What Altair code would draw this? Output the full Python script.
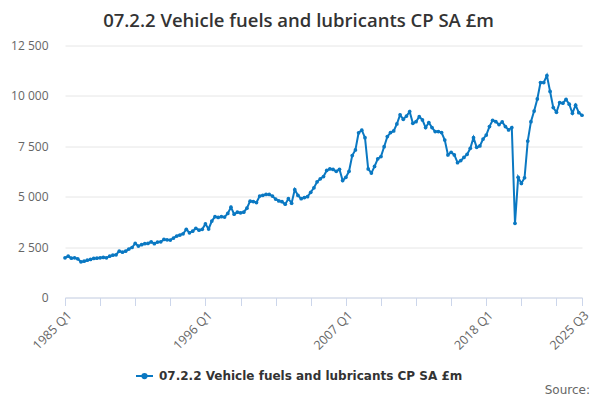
import altair as alt
import pandas as pd

series_name = "07.2.2 Vehicle fuels and lubricants CP SA £m"

start_year = 1985
values = [
    1970, 2050, 1950, 1970, 1920, 1770, 1800, 1850, 1890, 1940,
    1950, 1970, 1990, 1970, 2050, 2100, 2120, 2300, 2250, 2300,
    2400, 2480, 2680, 2550, 2620, 2670, 2680, 2760, 2670, 2750,
    2760, 2880, 2860, 2850, 2950, 3050, 3100, 3160, 3380, 3210,
    3290, 3430, 3340, 3380, 3650, 3400, 3790, 4010, 3970, 4010,
    3990, 4170, 4480, 4130, 4230, 4200, 4230, 4430, 4780, 4760,
    4710, 5030, 5070, 5110, 5110, 5030, 4880, 4790, 4750, 4630,
    4900, 4680, 5350, 5060, 4900, 4960, 5000, 5220, 5440, 5740,
    5890, 6000, 6300, 6380, 6350, 6260, 6360, 5800, 5960, 6260,
    7040, 7320, 8170, 8300, 7930, 6380, 6170, 6500, 6880, 6990,
    7480, 7980, 8180, 8260, 8610, 9060, 8840, 9000, 9220, 8640,
    8720, 8970, 8810, 8430, 8680, 8430, 8230, 8230, 8180, 7810,
    7070, 7200, 7070, 6690, 6790, 6950, 7100, 7400, 7930, 7450,
    7520, 7860, 8060, 8480, 8790, 8720, 8580, 8710, 8480, 8310,
    8430, 3680, 5960, 5660, 5940, 7760, 8720, 9250, 9850, 10660,
    10660, 11010, 10220, 9420, 9190, 9670, 9640, 9830, 9590, 9140,
    9540, 9170, 9040,
]

quarters = [f"{start_year + i // 4} Q{i % 4 + 1}" for i in range(len(values))]

tick_quarters = quarters[::11] + [quarters[-1]]
label_quarters = ["1985 Q1", "1996 Q1", "2007 Q1", "2018 Q1", "2025 Q3"]
y_ticks = [0, 2500, 5000, 7500, 10000, 12500]

df = pd.DataFrame({"quarter": quarters, "value": values, "series": series_name})

blue = "#0a78c2"
label_list = "[" + ",".join(f"'{q}'" for q in label_quarters) + "]"

path_sym = "M-1,0L1,0M-0.25,0A0.25,0.25,0,1,0,0.25,0A0.25,0.25,0,1,0,-0.25,0Z"

line = alt.Chart(df).mark_line(
    strokeWidth=2,
    point=alt.OverlayMarkDef(filled=True, size=14, color=blue),
).encode(
    x=alt.X(
        "quarter:O",
        sort=quarters,
        scale=alt.Scale(type="point", padding=0),
        axis=alt.Axis(
            title=None,
            values=tick_quarters,
            labelExpr=f"indexof({label_list}, datum.value) >= 0 ? datum.value : ''",
            labelAngle=-45,
            labelAlign="right",
            labelBaseline="top",
            labelFont="Open Sans",
            labelFontSize=12.5,
            labelColor="#666666",
            labelPadding=3,
            tickSize=8,
            tickColor="#ccd6eb",
            domainColor="#ccd6eb",
            grid=False,
            labelOverlap=False,
        ),
    ),
    y=alt.Y(
        "value:Q",
        scale=alt.Scale(domain=[0, 12500], nice=False),
        axis=alt.Axis(
            title=None,
            values=y_ticks,
            labelExpr="replace(format(datum.value, ','), ',', ' ')",
            labelFont="Open Sans",
            labelFontSize=12,
            labelColor="#666666",
            labelPadding=17,
            domain=False,
            ticks=False,
            gridColor="#e6e6e6",
        ),
    ),
    color=alt.Color(
        "series:N",
        scale=alt.Scale(range=[blue]),
        legend=alt.Legend(
            title=None,
            orient="none",
            legendX=70,
            legendY=321,
            symbolType=path_sym,
            symbolSize=289,
            symbolStrokeWidth=2,
            symbolStrokeColor=blue,
            symbolFillColor=blue,
            labelFont="DejaVu Sans",
            labelFontSize=12,
            labelFontWeight="bold",
            labelColor="#333333",
            labelOffset=5,
            labelLimit=500,
        ),
    ),
)

source = alt.Chart(pd.DataFrame({"t": ["Source:"]})).mark_text(
    align="right", baseline="middle", fontSize=12, font="DejaVu Sans", color="#666666"
).encode(x=alt.value(525), y=alt.value(344), text="t:N")

chart = alt.layer(line, source).properties(
    width=517,
    height=252,
    padding={"left": 57, "top": 37.5, "right": 10, "bottom": 100},
    autosize=alt.AutoSizeParams(type="none"),
    title=alt.Title(
        series_name,
        font="Open Sans",
        fontSize=18.5,
        fontWeight=600,
        color="#333333",
        anchor="middle",
        offset=9,
        dx=-25,
    ),
).configure_view(stroke=None)

chart.save("out.html", embed_options={"renderer": "svg", "actions": False})
